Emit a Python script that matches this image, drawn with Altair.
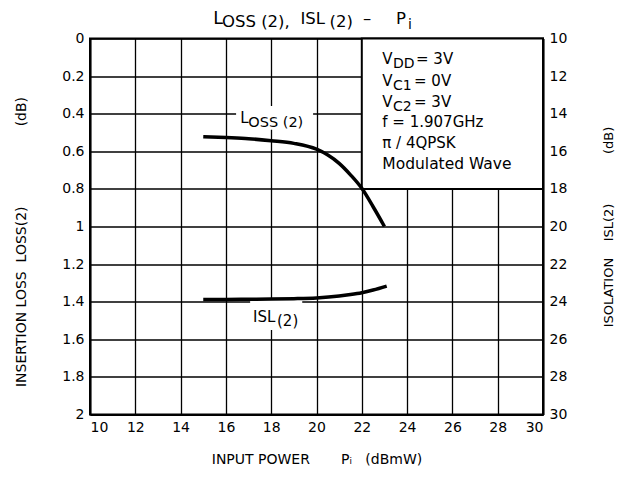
import altair as alt
import pandas as pd

# ---- data ----
LOSS_PIN = [15, 16, 17, 18, 19, 20, 20.5, 21, 21.5, 22, 22.5, 23]
LOSS_DB = [0.522, 0.527, 0.533, 0.544, 0.558, 0.589, 0.62, 0.664, 0.725, 0.797, 0.895, 1.0]
ISL_PIN = [15, 16, 17, 18, 19, 20, 21, 21.5, 22, 22.5, 23.1]
ISL_DB = [23.88, 23.88, 23.87, 23.86, 23.84, 23.80, 23.70, 23.62, 23.52, 23.38, 23.17]
X_TICKS = [10, 12, 14, 16, 18, 20, 22, 24, 26, 28, 30]
LEFT_TICKS = [0, 0.2, 0.4, 0.6, 0.8, 1, 1.2, 1.4, 1.6, 1.8, 2]
RIGHT_TICKS = [10, 12, 14, 16, 18, 20, 22, 24, 26, 28, 30]

FONT = "DejaVu Sans"
NB = "\u00a0"

xscale = alt.Scale(domain=[10, 30], nice=False, zero=False)
yl = alt.Scale(domain=[0, 2], reverse=True, nice=False, zero=False)
yr = alt.Scale(domain=[10, 30], reverse=True, nice=False, zero=False)

x_title = "INPUT POWER" + NB * 7 + "P\u1d62" + NB * 3 + "(dBmW)"
left_title = "INSERTION LOSS" + NB * 2 + "LOSS(2)" + NB * 18 + "(dB)"
right_title = "ISOLATION" + NB * 4 + "ISL(2)" + NB * 12 + "(dB)"

x_axis = alt.Axis(values=X_TICKS, grid=True, title=x_title, labelPadding=6,
                  titlePadding=18, titleFontSize=14, labelOverlap=False, tickCount=11)
left_axis = alt.Axis(values=LEFT_TICKS, format="~g", grid=True, title=left_title,
                     labelPadding=6, titlePadding=33, titleFontSize=14, titleY=203,
                     labelOverlap=False, tickCount=11)
right_axis = alt.Axis(orient="right", values=RIGHT_TICKS, grid=False, title=right_title,
                      labelPadding=6, titlePadding=36, titleFontSize=13,
                      titleAngle=270, titleBaseline="top", labelOverlap=False, tickCount=11)

loss_df = pd.DataFrame({"p": LOSS_PIN, "v": LOSS_DB})
isl_df = pd.DataFrame({"p": ISL_PIN, "v": ISL_DB})

# condition box and label backgrounds (data coordinates)
box_df = pd.DataFrame({"p": [22], "p2": [30], "v": [0], "v2": [0.8]})
bg_df = pd.DataFrame({"p": [16.45, 17.07], "p2": [19.85, 19.37],
                      "v": [0.359, 1.391], "v2": [0.486, 1.551]})

box = alt.Chart(box_df).mark_rect(fill="white", stroke="black", strokeWidth=2).encode(
    x=alt.X("p:Q", scale=xscale, axis=x_axis), x2="p2",
    y=alt.Y("v:Q", scale=yl, axis=left_axis), y2="v2")
bgs = alt.Chart(bg_df).mark_rect(fill="white").encode(
    x=alt.X("p:Q", scale=xscale, axis=x_axis), x2="p2",
    y=alt.Y("v:Q", scale=yl, axis=left_axis), y2="v2")

loss = alt.Chart(loss_df).mark_line(color="black", strokeWidth=3.5, interpolate="monotone").encode(
    x=alt.X("p:Q", scale=xscale, axis=x_axis),
    y=alt.Y("v:Q", scale=yl, axis=left_axis))


def txt(s, x, y, size):
    return alt.Chart(pd.DataFrame({"t": [s]})).mark_text(
        font=FONT, fontSize=size, align="left", baseline="alphabetic", color="black"
    ).encode(x=alt.value(x), y=alt.value(y), text=alt.value(s))


texts = [
    # chart title
    txt("L", 123.3, -15, 17.5), txt("OSS (2),", 132, -11.5, 16.5),
    txt("ISL", 210.5, -15, 16.5), txt("(2)", 239.5, -11.5, 16.5),
    txt("\u2013", 273, -15, 16.5), txt("P", 306, -15, 16.5), txt("i", 318, -10, 14),
    # condition box
    txt("V", 292.3, 25.5, 15), txt("DD", 303, 29, 14), txt("= 3V", 326, 25.5, 15),
    txt("V", 292.3, 47.5, 15), txt("C1", 303, 51, 14), txt("= 0V", 324, 47.5, 15),
    txt("V", 292.3, 68.5, 15), txt("C2", 303, 72, 14), txt("= 3V", 324, 68.5, 15),
    txt("f = 1.907GHz", 292.3, 88.5, 15),
    txt("\u03c0 / 4QPSK", 292.3, 109.5, 15),
    txt("Modulated Wave", 292.3, 130.5, 15.5),
    # curve labels
    txt("L", 150.3, 84.8, 15), txt("OSS (2)", 158.3, 88.3, 14.5),
    txt("ISL", 163, 283.5, 15), txt("(2)", 187, 287.5, 15),
]

left_group = alt.layer(box, bgs, loss, *texts)

isl = alt.Chart(isl_df).mark_line(color="black", strokeWidth=3.5, interpolate="monotone").encode(
    x=alt.X("p:Q", scale=xscale, axis=x_axis),
    y=alt.Y("v:Q", scale=yr, axis=right_axis))

chart = alt.layer(left_group, isl).resolve_scale(y="independent").properties(
    width=453, height=376,
    autosize=alt.AutoSizeParams(type="none"),
    padding={"left": 82, "top": 30.5, "right": 84, "bottom": 54},
).configure_view(stroke="black", strokeWidth=2).configure_axis(
    domainColor="black", domainWidth=2, ticks=False,
    gridColor="black", gridWidth=1.3, gridOpacity=1,
    labelFont=FONT, labelFontSize=14, labelColor="black",
    titleFont=FONT, titleFontWeight="normal", titleColor="black",
)

chart.save("out.html", embed_options={"renderer": "svg", "actions": False})
